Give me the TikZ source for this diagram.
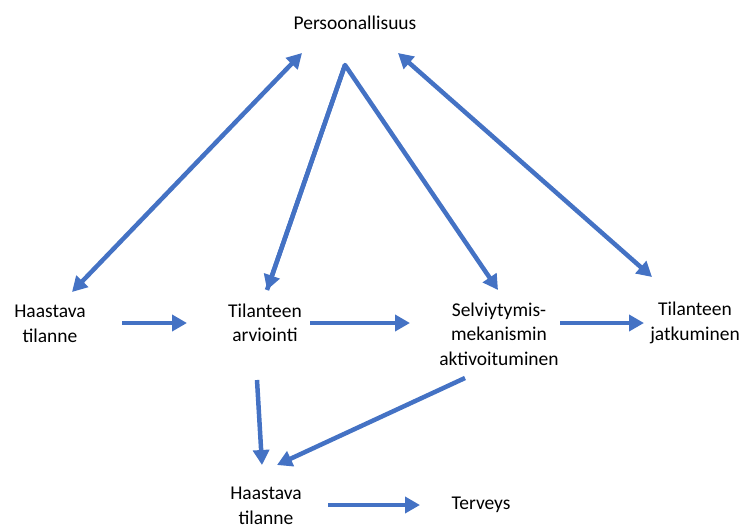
\documentclass[tikz,border=0pt]{standalone}
\usepackage{fontspec}
\setmainfont{Carlito}
\usetikzlibrary{arrows.meta}
\definecolor{arrowblue}{HTML}{4472C4}
\begin{document}
\begin{tikzpicture}[x=1pt,y=-1pt,
  label/.style={align=center,inner sep=0pt,text=black,
    font=\fontsize{19.5}{24.5}\selectfont},
  flow/.style={draw=arrowblue,line width=4.5pt,
    -{Triangle[length=15pt,width=16pt]}},
  twoway/.style={draw=arrowblue,line width=4.5pt,
    {Triangle[length=15pt,width=16pt]}-{Triangle[length=15pt,width=16pt]}}]
\useasboundingbox (0,0) rectangle (743,525);

% texts
\node[label] (pers) at (355,23) {Persoonallisuus};
\node[label] (haas1) at (50,324) {Haastava\\tilanne};
\node[label] (arvi) at (265,323) {Tilanteen\\arviointi};
\node[label] (selv) at (499,334) {Selviytymis-\\mekanismin\\aktivoituminen};
\node[label] (jatk) at (695,323) {Tilanteen\\jatkuminen};
\node[label] (haas2) at (266,506) {Haastava\\tilanne};
\node[label] (terv) at (481,505) {Terveys};

% connector ends
\coordinate (pL) at (302,53);
\coordinate (pTop) at (345,65);
\coordinate (pR) at (398,53);
\coordinate (hTop) at (72,292);
\coordinate (aTop) at (267,290);
\coordinate (sTop) at (498,290);
\coordinate (jTop) at (652,277);
\coordinate (hR) at (122,323);
\coordinate (aL) at (187,323);
\coordinate (aR) at (310,323);
\coordinate (sL) at (410,323);
\coordinate (sR) at (560,323);
\coordinate (jL) at (644,323);
\coordinate (aBot) at (257,380);
\coordinate (sBot) at (465,378);
\coordinate (h2Top) at (262,465);
\coordinate (h2TopR) at (277,465);
\coordinate (h2R) at (328,505);
\coordinate (tL) at (420,505);

% connectors
\draw[twoway] (hTop) -- (pL);
\draw[twoway] (pR) -- (jTop);
\draw[flow, line join=round] (aTop) -- (pTop) -- (sTop);
\draw[flow] (pTop) -- (aTop);
\draw[flow] (hR) -- (aL);
\draw[flow] (aR) -- (sL);
\draw[flow] (sR) -- (jL);
\draw[flow] (aBot) -- (h2Top);
\draw[flow] (sBot) -- (h2TopR);
\draw[flow] (h2R) -- (tL);
\end{tikzpicture}
\end{document}
